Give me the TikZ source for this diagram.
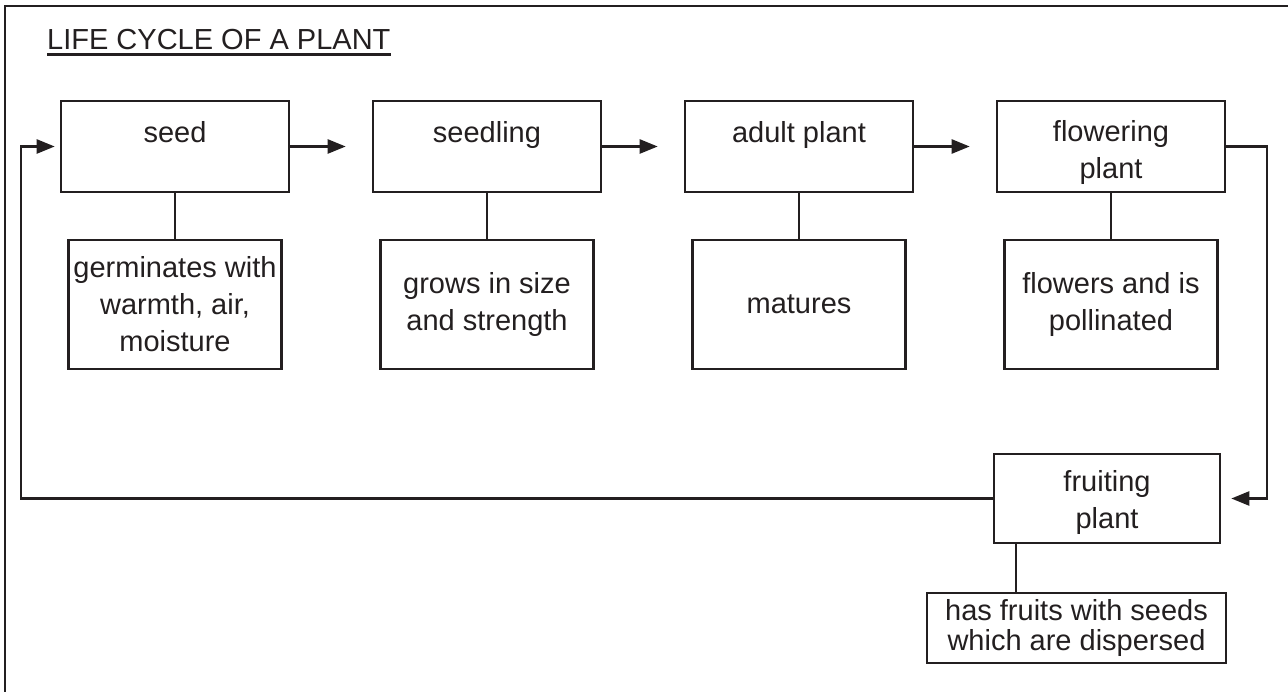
\documentclass[tikz,border=0pt]{standalone}
\usepackage{fontspec}
\setmainfont{Liberation Sans}
\usetikzlibrary{arrows.meta,calc}
\definecolor{ink}{HTML}{231F20}
\begin{document}
\begin{tikzpicture}[x=1pt,y=1pt,
  every node/.style={text=ink},
  mainbox/.style={draw=ink, line width=2.6pt, minimum width=228pt, minimum height=91pt, inner sep=0pt},
  subbox/.style={draw=ink, line width=2.6pt, minimum width=213pt, minimum height=129pt, inner sep=0pt, align=center, font=\fontsize{29}{37}\selectfont},
  lbl/.style={anchor=north, inner sep=0pt, align=center, font=\fontsize{29}{37}\selectfont},
  conn/.style={draw=ink, line width=2.4pt},
  arr/.style={conn, -{Triangle[length=18pt,width=14pt]}},
  frame/.style={draw=ink, line width=1.6pt}
]
\useasboundingbox (0,0) rectangle (1288,-692);
\fill[white] (0,0) rectangle (1288,-692);
\draw[frame] (5,-692) -- (5,-6) -- (1288,-6);

% title
\node[anchor=base west, inner sep=0pt, font=\fontsize{29}{35}\selectfont] (title) at (47,-50) {LIFE CYCLE OF A PLANT};
\draw[ink, line width=2.6pt] ([yshift=-4.5pt]title.base west) -- ([yshift=-4.5pt]title.base east);

% main boxes
\node[mainbox] (seed) at (175,-146.5) {};
\node[mainbox] (seedling) at (487,-146.5) {};
\node[mainbox] (adult) at (799,-146.5) {};
\node[mainbox] (flower) at (1111,-146.5) {};
\node[mainbox, minimum width=226pt, minimum height=89pt] (fruit) at (1107,-498.5) {};

\node[lbl] (seedtxt) at ([yshift=-17pt]seed.north) {\strut seed};
\node[lbl] (seedlingtxt) at ([yshift=-17pt]seedling.north) {\strut seedling};
\node[lbl] (adulttxt) at ([yshift=-17pt]adult.north) {\strut adult plant};
\node[lbl] (flowertxt) at ([yshift=-16pt]flower.north) {\strut flowering\\plant};
\node[lbl] (fruittxt) at ([yshift=-13pt]fruit.north) {\strut fruiting\\plant};

% sub boxes
\node[subbox] (germ) at (175,-304.5) {germinates with\\warmth, air,\\moisture};
\node[subbox] (grow) at (487,-304.5) {grows in size\\and strength};
\node[subbox] (mat) at (799,-304.5) {matures};
\node[subbox] (poll) at (1111,-304.5) {flowers and is\\pollinated};
\node[subbox, minimum width=299pt, minimum height=70pt, font=\fontsize{29}{30}\selectfont] (disp) at (1076.5,-628) {has fruits with seeds\\which are dispersed};

% vertical connectors
\draw[conn] (seed.south) -- (germ.north);
\draw[conn] (seedling.south) -- (grow.north);
\draw[conn] (adult.south) -- (mat.north);
\draw[conn] (flower.south) -- (poll.north);
\coordinate (fc) at ($(fruit.south west)+(23,0)$);
\draw[conn] (fc) -- (fc |- disp.north);

% horizontal arrows
\draw[arr] (seed.east) -- ([xshift=-26pt]seedling.west);
\draw[arr] (seedling.east) -- ([xshift=-26pt]adult.west);
\draw[arr] (adult.east) -- ([xshift=-26pt]flower.west);

% loop arrows
\coordinate (rc) at (1267,0);
\draw[arr] (flower.east) -- (rc |- flower.east) |- ([xshift=10pt]fruit.east);
\coordinate (lc) at (21,0);
\draw[arr] (fruit.west) -- (lc |- fruit.west) |- ([xshift=-5pt]seed.west);
\end{tikzpicture}
\end{document}
